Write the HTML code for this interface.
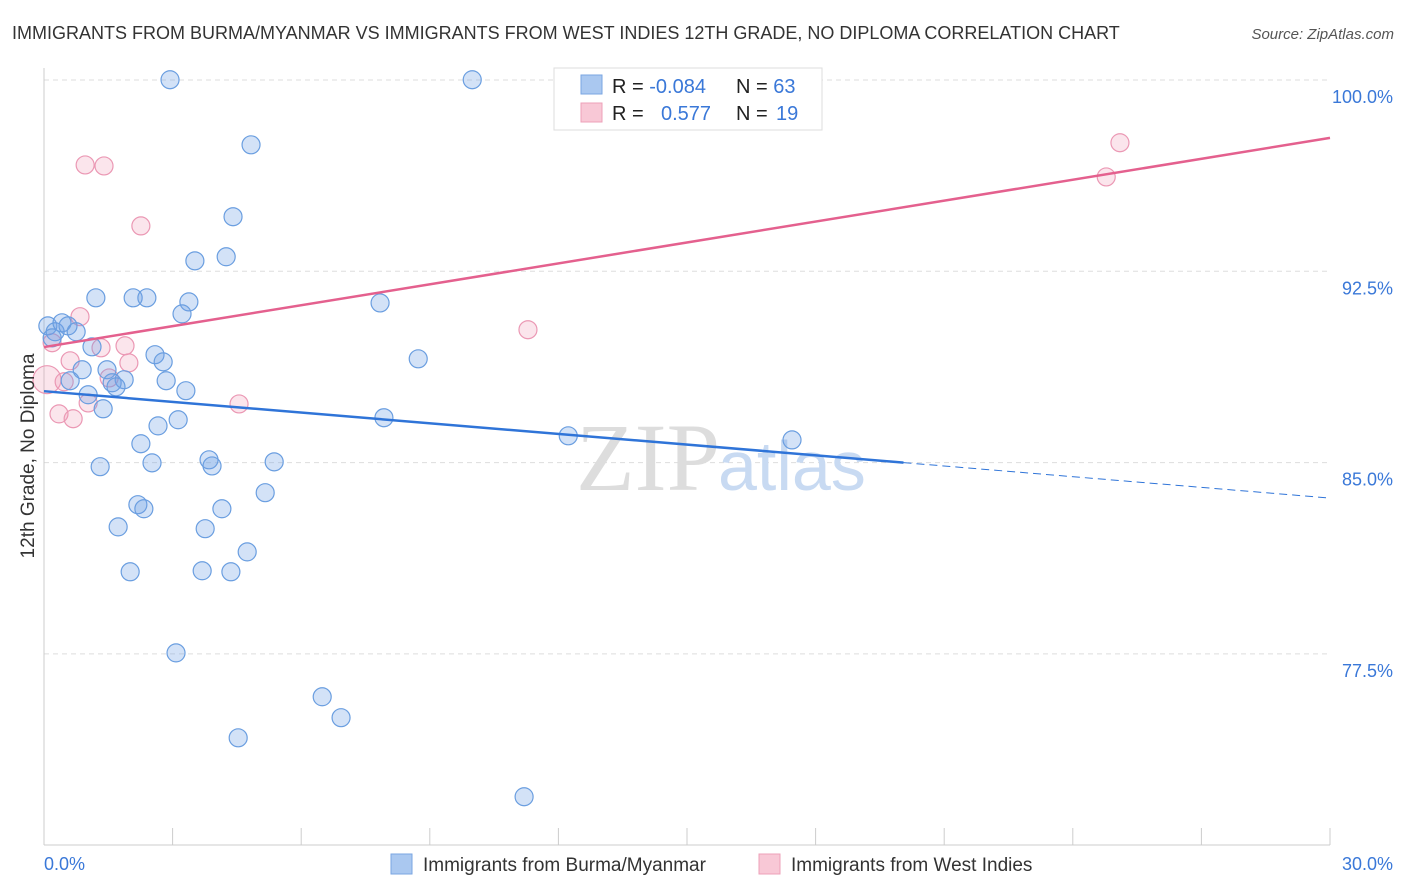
<!DOCTYPE html>
<html><head><meta charset="utf-8"><style>
body{margin:0;background:#fff;font-family:"Liberation Sans",sans-serif;}
svg{display:block}
</style></head><body>
<svg id="chart" width="1406" height="892" xmlns="http://www.w3.org/2000/svg">
<text x="12" y="39" font-size="18" fill="#333">IMMIGRANTS FROM BURMA/MYANMAR VS IMMIGRANTS FROM WEST INDIES 12TH GRADE, NO DIPLOMA CORRELATION CHART</text>
<text x="1394" y="39" font-size="15" fill="#555" font-style="italic" text-anchor="end">Source: ZipAtlas.com</text>
<g id="grid"></g>
<text x="720" y="490" font-size="96" font-family="Liberation Serif,serif" fill="#ddd" text-anchor="end">ZIP</text>
<text x="718" y="490" font-size="70" fill="#c8daf2">atlas</text>
<g id="pts"></g>
<g id="lines"></g>
<text transform="translate(34,456) rotate(-90)" font-size="19" fill="#333" text-anchor="middle">12th Grade, No Diploma</text>
<g>
<rect x="554" y="68" width="268" height="62" fill="#fff" stroke="#ddd"/>
<rect x="581" y="75" width="21" height="19" fill="#aac8f0" stroke="#7aa6e2"/>
<rect x="581" y="103" width="21" height="19" fill="#f8c8d6" stroke="#eea0b8"/>
<text x="612" y="93" font-size="20" fill="#222">R = <tspan fill="#3a78d8">-0.084</tspan></text>
<text x="736" y="93" font-size="20" fill="#222">N = <tspan fill="#3a78d8">63</tspan></text>
<text x="612" y="120" font-size="20" fill="#222">R = <tspan fill="#3a78d8" x="661">0.577</tspan></text>
<text x="736" y="120" font-size="20" fill="#222">N = <tspan fill="#3a78d8" x="776">19</tspan></text>
</g>
<g>
<rect x="391" y="854" width="21" height="20" fill="#aac8f0" stroke="#7aa6e2"/>
<text x="423" y="871" font-size="19" fill="#333">Immigrants from Burma/Myanmar</text>
<rect x="759" y="854" width="21" height="20" fill="#f8c8d6" stroke="#eea0b8"/>
<text x="791" y="871" font-size="19" fill="#333">Immigrants from West Indies</text>
</g>
</svg>
<script>
const blueX=[2.94,9.99,12.82,4.83,4.41,3.52,4.25,1.21,2.08,2.40,3.38,3.22,7.84,0.09,0.26,0.42,0.56,0.75,0.19,1.12,2.59,2.78,8.73,0.89,1.47,0.61,1.59,1.87,1.68,2.85,3.31,1.03,1.38,3.13,2.66,7.93,12.23,17.45,2.26,2.52,1.31,3.85,3.92,5.37,5.16,2.19,2.33,4.15,1.73,3.76,4.74,2.01,3.69,4.36,3.08,6.49,6.93,4.53,11.20];
const blueY=[100.01,100.01,99.94,97.46,94.64,92.91,93.07,91.46,91.46,91.46,91.30,90.83,91.26,90.36,90.13,90.48,90.36,90.13,89.89,89.54,89.23,88.95,89.07,88.64,88.64,88.21,88.13,88.25,87.97,88.21,87.82,87.66,87.11,86.68,86.44,86.76,86.05,85.89,85.74,84.99,84.84,85.11,84.87,85.03,83.82,83.35,83.19,83.19,82.48,82.41,81.50,80.72,80.76,80.72,77.54,75.82,75.00,74.21,71.90];
const pinkX=[0.96,1.40,2.26,25.1,24.78,11.29,0.84,0.19,0.61,1.33,1.89,1.98,0.07,0.47,1.52,1.03,0.35,0.68,4.55];
const pinkY=[96.67,96.63,94.28,97.54,96.20,90.21,90.72,89.70,88.99,89.50,89.58,88.91,88.25,88.17,88.32,87.34,86.91,86.72,87.30];
const blueTrend=[0,87.80,30,83.61,20.05];
const pinkTrend=[0,89.53,30,97.73];
const yTicks=[100,92.5,85,77.5];
const yLabels=["100.0%","92.5%","85.0%","77.5%"];
const xTicks=[0,3,6,9,12,15,18,21,24,27,30];
const NS="http://www.w3.org/2000/svg";
const sx=v=>44+v/30*1286, sy=v=>80+(100-v)*25.507;
function mk(t,a,p){const e=document.createElementNS(NS,t);for(const k in a)e.setAttribute(k,a[k]);p.appendChild(e);return e;}
const g=document.getElementById('grid');
yTicks.forEach((v,i)=>{
 const l=mk('line',{x1:44,x2:1330,y1:sy(v),y2:sy(v),stroke:'#ddd','stroke-dasharray':'5,4'},g);
 
 
 const t=mk('text',{x:1393,y:sy(v)+23,'font-size':18,fill:'#3a78d8','text-anchor':'end'},g);
 t.textContent=yLabels[i];
 
 
});
let ax=mk('line',{x1:44,x2:44,y1:68,y2:845,stroke:'#ccc'},g);


ax=mk('line',{x1:44,x2:1330,y1:845,y2:845,stroke:'#ccc'},g);


xTicks.forEach(v=>{const l=mk('line',{x1:sx(v),x2:sx(v),y1:828,y2:845,stroke:'#ccc'},g);
 
 });
[[0,'start',44,'0.0%'],[30,'end',1393,'30.0%']].forEach(d=>{const t=mk('text',{x:d[2],y:870,'font-size':18,fill:'#3a78d8','text-anchor':d[1]},g);t.textContent=d[3];
 
 });
const p=document.getElementById('pts');
pinkX.forEach((x,i)=>{const c=mk('circle',{cx:sx(x),cy:sy(pinkY[i]),r:i==12?14:9,fill:'rgba(240,150,180,0.25)',stroke:'#eb98b4','stroke-width':1.2},p);
 
 });
blueX.forEach((x,i)=>{const c=mk('circle',{cx:sx(x),cy:sy(blueY[i]),r:9,fill:'rgba(110,160,230,0.3)',stroke:'#6a9ee0','stroke-width':1.2},p);
 
 });
const L=document.getElementById('lines');
const by=x=>blueTrend[1]+(blueTrend[3]-blueTrend[1])*(x-blueTrend[0])/(blueTrend[2]-blueTrend[0]);
let l=mk('line',{x1:sx(0),y1:sy(by(0)),x2:sx(blueTrend[4]),y2:sy(by(blueTrend[4])),stroke:'#2f74d8','stroke-width':2.5},L);


l=mk('line',{x1:sx(blueTrend[4]),y1:sy(by(blueTrend[4])),x2:sx(30),y2:sy(by(30)),stroke:'#2f74d8','stroke-width':1,'stroke-dasharray':'8,5'},L);


l=mk('line',{x1:sx(pinkTrend[0]),y1:sy(pinkTrend[1]),x2:sx(pinkTrend[2]),y2:sy(pinkTrend[3]),stroke:'#e4608e','stroke-width':2.5},L);


</script>
</body></html>
